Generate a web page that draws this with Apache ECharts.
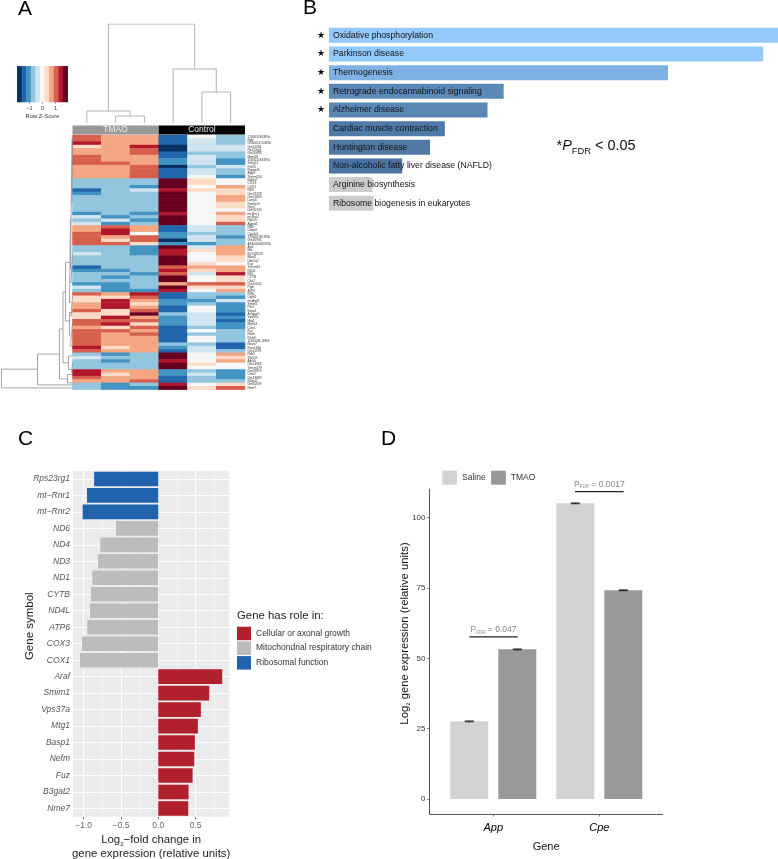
<!DOCTYPE html>
<html><head><meta charset="utf-8">
<style>html,body{margin:0;padding:0;background:#fff}#c{width:778px;height:859px}</style>
<script src="https://cdn.jsdelivr.net/npm/echarts@6/dist/echarts.min.js"></script>
</head><body><div id="c"></div>
<script>
// ---------- Panel A data ----------
const tmao1=[3,3,4,1,2,2,3,3,3,2,2,2,2,-2,-2,-2,-4,-3,-2,-2,-2,-2,-2,-3,-1,-2,-1,2,2,3,3,3,3,-2,-2,-1,-2,-2,-2,-4,-3,-2,-2,-2,-3,-1,-2,3,1,1,2,2,3,1,1,3,3,2,3,3,3,3,3,4,3,-2,-1,-2,-2,-2,4,4,3,2,-2,-2];
const tmao2=[2,2,2,2,2,2,2,2,3,2,2,2,2,-2,-2,-2,-2,-2,-2,-2,-2,-2,-2,-2,-3,-1,-3,3,4,4,2,1,3,-2,-2,-2,-2,-2,-2,-2,-3,-2,-3,-2,-3,-3,-3,2,1,4,4,4,1,1,4,3,4,1,3,2,2,2,2,1,2,-3,-2,-3,-2,-2,2,1,2,2,-3,-3];
const tmao3=[2,2,2,4,3,3,2,2,2,3,3,3,3,-2,-2,-3,-1,-2,-2,-2,-2,-2,-2,-3,-2,-3,-2,2,2,0,3,3,1,-3,-3,-3,-2,-2,-2,-2,-2,-3,-2,-2,-2,-2,-3,4,3,2,1,2,3,5,2,3,1,3,2,3,2,2,2,2,2,-2,-2,-2,-2,-2,2,2,2,3,-2,-3];
const ctrl1=[-4,-4,-4,-5,-5,-4,-4,-3,-3,-5,-4,-4,-4,5,5,5,4,5,5,5,5,5,5,4,5,5,5,-4,-4,-3,-3,-5,-3,5,4,4,5,5,5,3,4,3,5,5,2,5,4,-4,-4,-3,-3,-4,-4,-2,-3,-3,-3,-4,-4,-4,-4,-4,-2,-3,-4,5,5,4,5,5,-3,-3,-4,-4,4,5];
const ctrl2=[0,-1,-1,-1,-1,-2,-1,-1,-1,-2,-1,-1,0,1,1,0,1,0,0,0,0,0,0,0,0,0,0,-1,-1,-2,-1,-1,-3,-1,1,0,0,0,1,2,1,-1,0,0,3,1,0,-2,-2,-3,-2,0,0,-1,-1,-1,-1,-2,0,-2,0,0,-2,-1,-1,0,0,0,1,0,-2,-1,-2,-2,0,1];
const ctrl3=[-2,-2,-2,-1,-1,-2,-2,-3,-3,-1,-2,-2,-3,0,0,2,1,1,2,2,1,1,0,2,1,1,3,-2,-2,-2,-3,-2,-2,2,2,2,1,1,0,2,2,4,1,1,3,1,2,-2,-3,-1,-3,-3,-3,-4,-3,-4,-3,-3,-2,-2,-2,-2,-4,-4,-2,2,1,2,0,0,-3,-3,-3,-2,1,3];
const heatColumns=[tmao1,tmao2,tmao3,ctrl1,ctrl2,ctrl3];
const heatSamples=['T1','T2','T3','C1','C2','C3'];
const heatGenes=['1700011E24Rik','Ngb','G530011O06Rik','Gm11346','Rps23rg1','Gm20683','Mrps28','1500011K16Rik','Snhg11','Rnf25','Rapgef4','Aplp1','Tmem256','Ndufs7','COX3','COX1','ND3','Gm37378','Gm12669','Lamp5','Ranbp3l','Nrgn','Gm20703','mt-Rnr1','mt-Rnr2','Rps29','Agpat5','ND6','Cebpd','Cyp4v3','1700007K13Rik','Gm35985','A830010M20Rik','Araf','Mlx','BC028528','Mbnl2','Ube2q2','Kcp','Tmem63','ND4L','ND1','CYTB','Cbx7','Gm10602','Pigb','ATP6','Rtl8c','Ogfrl1','mt-Atp8','Smim1','Pfn2','Basp1','Arhgap5','Vps37a','Mtg1','Mrpl54','Ctxn1','Fuz','Nefm','Plcb3','1110008L16Rik','Nsun7','Fam163b','Gm11599','Rdh5','Zfp945','Atp5h','Gm14963','Tmem179','Gm37879','Cnih2','Gm13889','B3gat2','Gm10639','Nme7'];
const keyLevels=[-5,-4,-3,-2,-1,0,1,2,3,4,5];
const keyColors=['#053061','#2166ac','#4393c3','#92c5de','#d1e5f0','#f7f7f7','#fddbc7','#f4a582','#d6604d','#b2182b','#67001f'];
const keyTicks=[-1,0,1];
const groupNames=['TMAO','Control'];
const topLinks=[[7,1.5,0,2.5,0],[12,0.5,0,2,7],[31,4.5,0,5.5,0],[54,3.5,0,5,31],[99,1.25,12,4.25,54]];
const leftLinks=[[71,69.9,35,75.5,0],[35,65.4,13,74.6,0],[13,57.9,9.5,72.8,5],[5,71.5,0,74,0],[9.5,46.9,7,68,4],[4,66,0,70,1],[1,68,0,71,0],[7,38,3,55.5,3],[3,25,2,50,1.5],[2,1,0.5,40,1.5],[1.5,35,0,44,0],[1.5,48,0,54,0],[0.5,1,0,20,0],[3,53,0,60,2],[2,56,0,63,0]];
// ---------- Panel B data ----------
const pathways=['Oxidative phosphorylation','Parkinson disease','Thermogenesis','Retrograde endocannabinoid signaling','Alzheimer disease','Cardiac muscle contraction','Huntington disease','Non-alcoholic fatty liver disease (NAFLD)','Arginine biosynthesis','Ribosome biogenesis in eukaryotes'];
const pathwayScores=[100,96.7,75.5,38.9,35.3,25.8,22.5,16.3,9.7,9.9];
const pathwaySig=[1,1,1,1,1,0,0,0,0,0];
const pathwayColors=['#93c9fb','#93c9fb','#80b1e5','#5b89b8','#5b87b5','#4f79a7','#507aa2','#4a74a4','#cccccc','#cccccc'];
// ---------- Panel C data ----------
const geneSymbols=['Rps23rg1','mt\u2212Rnr1','mt\u2212Rnr2','ND6','ND4','ND3','ND1','CYTB','ND4L','ATP6','COX3','COX1','Araf','Smim1','Vps37a','Mtg1','Basp1','Nefm','Fuz','B3gat2','Nme7'];
const foldChange=[-0.86,-0.955,-1.013,-0.567,-0.777,-0.808,-0.884,-0.902,-0.915,-0.951,-1.022,-1.049,0.857,0.683,0.571,0.531,0.491,0.482,0.46,0.406,0.402];
const geneRole=[2,2,2,1,1,1,1,1,1,1,1,1,0,0,0,0,0,0,0,0,0];
const roleNames=['Cellular or axonal growth','Mitochondrial respiratory chain','Ribosomal function'];
const roleColors=['#b21f2d','#bdbcbd','#2062ac'];
const foldMajor=[-1,-0.5,0,0.5];
const foldMinor=[-0.75,-0.25,0.25,0.75];
// ---------- Panel D data ----------
const expGenes=['App','Cpe'];
const expPositions=[1,2];
const salineValues=[27.6,105.1];
const tmaoValues=[53.2,74.2];
const expError=[0.15,0.15];
const expTicks=[0,25,50,75,100];
const sigBars=[[0.774,1.23,57.6,'0.047'],[1.771,2.23,109.3,'0.0017']];

const FONT='"Liberation Sans",Arial,sans-serif';
const linkPath=(l,vertical)=>{const [h,a,ha,b,hb]=l;
  const pts=[[a,ha],[a,h],[b,h],[b,hb],[null,null]];
  return vertical?pts.map(p=>[p[1],p[0]]):pts;};
const heatData=[];
heatColumns.forEach((col,cx)=>col.forEach((v,r)=>heatData.push([cx,r,v])));

const letter=(t,l,tp)=>({text:t,left:l,top:tp,padding:0,textStyle:{fontFamily:FONT,fontSize:21,fontWeight:'normal',color:'#000'}});
const grids=[
 {left:72.5,top:135,width:172.5,height:254.6},
 {left:72.5,top:125.5,width:172.5,height:9},
 {left:72.5,top:24,width:172.5,height:99},
 {left:0,top:135,width:72.5,height:254.6},
 {left:17.3,top:66.3,width:50.4,height:35.7},
 {left:329,top:26,width:449,height:186.6},
 {left:73,top:470.7,width:156.3,height:346,show:true,backgroundColor:'#ebebeb',borderWidth:0},
 {left:429.5,top:489,width:233.2,height:325}
].map(g=>Object.assign(g,{outerBoundsMode:'none'}));
const hidden=(o)=>Object.assign({show:false},o);
const xAxes=[
 {gridIndex:0,type:'category',data:heatSamples,show:false},
 hidden({gridIndex:1,type:'value',min:0,max:2}),
 hidden({gridIndex:2,type:'value',min:0,max:6}),
 hidden({gridIndex:3,type:'value',min:0,max:72.5,inverse:true}),
 {gridIndex:4,type:'category',data:keyLevels.map(String),show:false},
 hidden({gridIndex:5,type:'value',min:0,max:100}),
 {gridIndex:6,type:'value',min:-1.143,max:0.952,
  name:'Log{s|2}\u2212fold change in\ngene expression (relative units)',nameLocation:'middle',nameGap:16.5,nameMoveOverlap:false,
  nameTextStyle:{fontFamily:FONT,fontSize:11.4,color:'#222',lineHeight:14,verticalAlign:'top',rich:{s:{fontSize:6,verticalAlign:'bottom',lineHeight:14,fontFamily:FONT,color:'#222'}}},
  axisLine:{show:false},splitLine:{show:false},
  axisTick:{show:true,length:2.5,customValues:foldMajor,lineStyle:{color:'#333',width:0.7}},
  axisLabel:{customValues:foldMajor,margin:4,fontFamily:FONT,fontSize:8.5,color:'#666',formatter:v=>v.toFixed(1).replace('-','\u2212')}},
 {gridIndex:7,type:'value',min:0.398,max:2.598,name:'Gene',nameLocation:'middle',nameGap:27,nameMoveOverlap:false,
  nameTextStyle:{fontFamily:FONT,fontSize:11,color:'#111'},
  axisLine:{show:true,onZero:false,lineStyle:{color:'#555',width:1}},splitLine:{show:false},
  axisTick:{show:true,length:2.5,customValues:expPositions,lineStyle:{color:'#555',width:0.7}},
  axisLabel:{customValues:expPositions,margin:8,fontFamily:FONT,fontSize:11,fontStyle:'italic',color:'#000',formatter:v=>expGenes[v-1]}},
 {gridIndex:4,type:'value',min:-1.94,max:1.94,position:'bottom',name:'Row Z-Score',nameLocation:'middle',nameGap:11.5,nameMoveOverlap:false,
  nameTextStyle:{fontFamily:FONT,fontSize:5.8,color:'#333'},
  axisLine:{show:false},splitLine:{show:false},
  axisTick:{show:true,length:2,customValues:keyTicks,lineStyle:{color:'#555',width:0.5}},
  axisLabel:{customValues:keyTicks,margin:3,fontFamily:FONT,fontSize:5.5,color:'#333',formatter:v=>String(v).replace('-','\u2212')}}
];
const yAxes=[
 {gridIndex:0,type:'category',data:heatGenes,inverse:true,position:'right',axisLine:{show:false},axisTick:{show:false},
  axisLabel:{interval:0,margin:2.5,fontFamily:FONT,fontSize:3.2,color:'#333'}},
 hidden({gridIndex:1,type:'category',data:['group']}),
 hidden({gridIndex:2,type:'value',min:0,max:99}),
 hidden({gridIndex:3,type:'value',min:0,max:76,inverse:true}),
 {gridIndex:4,type:'category',data:['key'],show:false},
 {gridIndex:5,type:'category',data:pathways,inverse:true,axisLine:{show:false},axisTick:{show:false},
  axisLabel:{interval:0,margin:4,fontFamily:'"DejaVu Sans"',fontSize:9,color:'#000',formatter:(v,i)=>pathwaySig[i]?'\u2605':''}},
 {gridIndex:6,type:'category',data:geneSymbols,inverse:true,name:'Gene symbol',nameLocation:'middle',nameGap:37,nameMoveOverlap:false,
  nameTextStyle:{fontFamily:FONT,fontSize:11.5,color:'#222',padding:[0,0,0,35]},
  axisLine:{show:false},splitLine:{show:false},
  axisTick:{show:true,alignWithLabel:true,length:2.5,lineStyle:{color:'#333',width:0.7}},
  axisLabel:{interval:0,margin:3,fontFamily:FONT,fontSize:8.5,fontStyle:'italic',color:'#555'}},
 {gridIndex:7,type:'value',min:-5.33,max:110.2,name:'Log{s|2} gene expression (relative units)',nameLocation:'middle',nameGap:18.5,nameMoveOverlap:false,
  nameTextStyle:{fontFamily:FONT,fontSize:11.3,color:'#111',padding:[0,0,0,36],rich:{s:{fontSize:6,verticalAlign:'bottom',lineHeight:12,fontFamily:FONT,color:'#111'}}},
  axisLine:{show:true,onZero:false,lineStyle:{color:'#555',width:1}},splitLine:{show:false},
  axisTick:{show:true,length:2.5,customValues:expTicks,lineStyle:{color:'#555',width:0.7}},
  axisLabel:{customValues:expTicks,margin:4,fontFamily:FONT,fontSize:8,color:'#333'}}
];
const foldLines=[
 ...foldMajor.map(v=>({xAxis:v,lineStyle:{color:'#fff',width:1,type:'solid'}})),
 ...foldMinor.map(v=>({xAxis:v,lineStyle:{color:'#fff',width:0.5,type:'solid'}})),
 ...geneSymbols.map(g=>({yAxis:g,lineStyle:{color:'#fff',width:1,type:'solid'}}))
];
const series=[
 {name:'heat',type:'heatmap',xAxisIndex:0,yAxisIndex:0,data:heatData,silent:true,progressive:0},
 {name:'key',type:'heatmap',xAxisIndex:4,yAxisIndex:4,data:keyLevels.map((v,i)=>[i,0,v]),silent:true},
 ...groupNames.map((g,i)=>({name:g,type:'bar',xAxisIndex:1,yAxisIndex:1,stack:'hdr',barWidth:'100%',data:[1],silent:true,
   itemStyle:{color:['#989898','#000000'][i]},
   label:{show:true,position:'inside',formatter:g,fontFamily:FONT,fontSize:8.5,color:'#eee'}})),
 {type:'line',xAxisIndex:2,yAxisIndex:2,data:topLinks.flatMap(l=>linkPath(l,false)),showSymbol:false,silent:true,connectNulls:false,lineStyle:{color:'#a0a0a0',width:0.8}},
 {type:'line',xAxisIndex:3,yAxisIndex:3,data:leftLinks.flatMap(l=>linkPath(l,true)),showSymbol:false,silent:true,connectNulls:false,lineStyle:{color:'#808080',width:0.7}},
 {type:'bar',xAxisIndex:5,yAxisIndex:5,barWidth:15,silent:true,
  data:pathwayScores.map((v,i)=>({name:pathways[i],value:v,itemStyle:{color:pathwayColors[i]}})),
  label:{show:true,position:'insideLeft',distance:4,formatter:'{b}',fontFamily:FONT,fontSize:8.7,color:'#111'}},
 ...roleNames.map((r,k)=>({name:r,type:'bar',xAxisIndex:6,yAxisIndex:6,stack:'fc',barWidth:14.6,silent:true,z:2,
   data:foldChange.map((v,i)=>geneRole[i]===k?v:0),itemStyle:{color:roleColors[k]},
   markLine:k===0?{silent:true,symbol:'none',z:1,animation:false,label:{show:false},data:foldLines}:undefined})),
 {name:'Saline',type:'bar',xAxisIndex:7,yAxisIndex:7,barWidth:38,barGap:'26.3%',silent:true,itemStyle:{color:'#d2d2d2'},
  data:expPositions.map((p,i)=>[p,salineValues[i]])},
 {name:'TMAO',type:'bar',xAxisIndex:7,yAxisIndex:7,barWidth:38,barGap:'26.3%',silent:true,itemStyle:{color:'#999999'},
  data:expPositions.map((p,i)=>[p,tmaoValues[i]])},
 {type:'custom',xAxisIndex:7,yAxisIndex:7,silent:true,z:5,
  data:expPositions.flatMap((p,i)=>[[p,salineValues[i],expError[i],-24],[p,tmaoValues[i],expError[i],24]]),
  renderItem:(pm,api)=>{const x=api.value(0),v=api.value(1),e=api.value(2),o=api.value(3);
    const a=api.coord([x,v+e]),b=api.coord([x,v-e]);const cx=a[0]+o;
    const st={stroke:'#000',lineWidth:0.8,fill:'none'};
    return {type:'group',children:[
      {type:'line',shape:{x1:cx-4.5,y1:a[1],x2:cx+4.5,y2:a[1]},style:st},
      {type:'line',shape:{x1:cx,y1:a[1],x2:cx,y2:b[1]},style:st},
      {type:'line',shape:{x1:cx-4.5,y1:b[1],x2:cx+4.5,y2:b[1]},style:st}]};}},
 {type:'line',xAxisIndex:7,yAxisIndex:7,silent:true,showSymbol:false,connectNulls:false,z:5,lineStyle:{color:'#222',width:1.2},
  data:sigBars.flatMap(s=>[[s[0],s[2]],[s[1],s[2]],[null,null]])},
 {type:'scatter',xAxisIndex:7,yAxisIndex:7,silent:true,symbolSize:0,z:6,
  data:sigBars.map(s=>({value:[(s[0]+s[1])/2,s[2]],note:s[3]})),
  label:{show:true,position:'top',distance:2,fontFamily:FONT,fontSize:8.5,color:'#666',
    formatter:p=>'P{s|FDR} = '+p.data.note,rich:{s:{fontSize:4.5,fontFamily:FONT,color:'#666',verticalAlign:'bottom',lineHeight:10}}}}
];
const option={
 animation:false,backgroundColor:'#fff',
 textStyle:{fontFamily:FONT},
 title:[letter('A',18,-1),letter('B',303,-2),letter('C',18,429),letter('D',381,429),
  {text:'*{i|P}{s|FDR} < 0.05',left:556.5,top:136,padding:0,textStyle:{fontFamily:FONT,fontSize:14.5,fontWeight:'normal',color:'#111',
    rich:{i:{fontFamily:FONT,fontSize:14.5,fontStyle:'italic',color:'#111'},s:{fontFamily:FONT,fontSize:9.3,color:'#111',verticalAlign:'bottom',lineHeight:20}}}},
  {text:'Gene has role in:',left:237,top:610,padding:0,textStyle:{fontFamily:FONT,fontSize:11.4,fontWeight:'normal',color:'#222'}}],
 grid:grids,xAxis:xAxes,yAxis:yAxes,
 visualMap:{show:false,seriesIndex:[0,1],dimension:2,type:'piecewise',
  pieces:keyLevels.map((v,i)=>({value:v,color:keyColors[i]}))},
 legend:[
  {data:roleNames,left:237,top:626.7,padding:0,orient:'vertical',itemWidth:14,itemHeight:13.5,itemGap:1.2,selectedMode:false,icon:'rect',
   textStyle:{fontFamily:FONT,fontSize:8.5,color:'#333'}},
  {data:['Saline','TMAO'],left:442.3,top:470.7,padding:0,orient:'horizontal',itemWidth:14.7,itemHeight:14,itemGap:5.5,selectedMode:false,icon:'rect',
   textStyle:{fontFamily:FONT,fontSize:8.5,color:'#333'}}
 ],
 series
};
echarts.init(document.getElementById('c'),null,{renderer:'canvas'}).setOption(option);
</script></body></html>
